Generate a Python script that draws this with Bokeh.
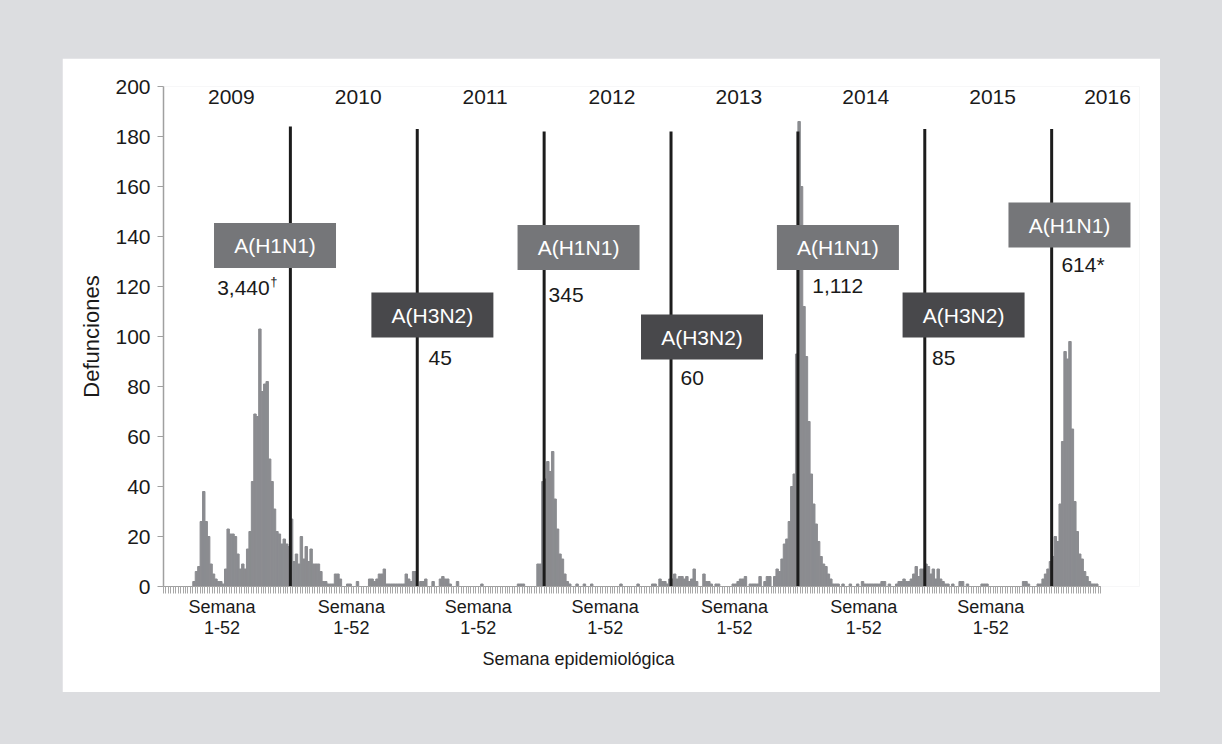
import numpy as np
from bokeh.plotting import figure
from bokeh.models import ColumnDataSource, FixedTicker, Title
from bokeh.layouts import column
from bokeh.embed import file_html
from bokeh.resources import INLINE
from bokeh.core.properties import value

# ---- data (weekly deaths) ----
years = ["2009", "2010", "2011", "2012", "2013", "2014", "2015", "2016"]
d2009 = [0]*12 + [2, 6, 8, 26, 38, 26, 20, 9, 5, 3, 2, 2, 1, 7, 23, 21, 21, 20, 13, 7,
                  9, 7, 15, 22, 42, 69, 68, 103, 78, 81, 82, 51, 42, 31, 22, 21, 17, 19, 17, 16]
d2010 = [27, 10, 13, 9, 20, 11, 16, 10, 15, 9, 9, 9, 6, 2, 2, 1, 1, 1, 5, 5,
         3, 0, 0, 1, 1, 0, 0, 2, 0, 0, 0, 0, 3, 3, 2, 3, 5, 5, 7, 1,
         1, 1, 1, 1, 1, 1, 1, 5, 3, 2, 6, 6]
d2011 = [0, 2, 2, 3, 0, 0, 2, 0, 0, 3, 4, 3, 3, 1, 0, 0, 2, 0, 0, 0,
         0, 0, 0, 0, 0, 0, 1, 0, 0, 0, 0, 0, 0, 0, 0, 0, 0, 0, 0, 0,
         0, 1, 1, 1, 0, 0, 0, 0, 0, 9, 9, 42]
d2012 = [43, 50, 46, 54, 35, 23, 13, 11, 5, 2, 1, 0, 0, 1, 0, 0, 1, 0, 0, 1,
         0, 0, 0, 0, 0, 0, 0, 0, 0, 0, 0, 1, 0, 0, 0, 0, 0, 0, 1, 0,
         0, 0, 0, 0, 1, 1, 0, 3, 2, 2, 1, 3]
d2013 = [3, 5, 3, 4, 4, 3, 4, 2, 3, 7, 2, 0, 0, 5, 2, 2, 1, 0, 1, 1,
         0, 0, 0, 0, 0, 1, 1, 2, 3, 3, 4, 0, 1, 1, 1, 1, 4, 0, 2, 4,
         4, 0, 4, 7, 6, 11, 17, 19, 26, 40, 45, 93]
d2014 = [186, 160, 112, 92, 66, 45, 33, 25, 18, 12, 9, 8, 5, 3, 1, 1, 1, 0, 1, 0,
         0, 1, 0, 0, 1, 0, 2, 1, 1, 1, 1, 1, 1, 1, 2, 2, 0, 1, 0, 0,
         1, 2, 2, 3, 2, 2, 3, 5, 8, 4, 7, 7]
d2015 = [9, 8, 5, 7, 3, 7, 3, 2, 1, 1, 0, 1, 0, 0, 2, 2, 0, 1, 0, 0,
         0, 0, 0, 1, 1, 1, 0, 0, 0, 0, 0, 0, 0, 0, 0, 0, 0, 0, 0, 0,
         2, 2, 1, 0, 0, 0, 1, 1, 3, 5, 7, 10]
d2016 = [12, 20, 18, 33, 58, 94, 91, 98, 63, 34, 22, 13, 11, 6, 4, 2, 1, 1, 1, 0]

deaths = d2009 + d2010 + d2011 + d2012 + d2013 + d2014 + d2015 + d2016
weeks = list(range(len(deaths)))

# season separators (end of each year, in weeks) and their heights
season_breaks = [52, 104, 156, 208, 260, 312, 364]
break_heights = [184, 183, 182, 182, 182, 183, 183]

subtypes = ["A(H1N1)", "A(H3N2)", "A(H1N1)", "A(H3N2)", "A(H1N1)", "A(H3N2)", "A(H1N1)"]
season_totals = ["3,440", "45", "345", "60", "1,112", "85", "614*"]
semana_labels = ["Semana\n1-52"] * 7

# ---- layout of annotations (positions in data units) ----
box_x = [45.7, 110.2, 170.1, 220.7, 276.4, 327.9, 371.3]
box_y = [136.4, 108.6, 135.6, 99.8, 135.6, 108.6, 144.6]
total_x = [22.0, 108.6, 157.8, 211.9, 265.9, 315.0, 368.0]
total_y = [119.4, 91.6, 116.8, 83.4, 120.4, 91.6, 128.8]
year_x = [27.8, 79.8, 131.8, 183.8, 235.8, 287.8, 339.8, 386.9]
semana_x = [24, 77, 129, 181, 234, 287, 339]

H1_COLOR = "#757679"
H3_COLOR = "#48484b"
BAR_COLOR = "#8b8c90"
INK = "#1a1a1a"
FONT = "Liberation Sans"

p = figure(width=1098, height=634, x_range=(0, 400), y_range=(0, 200),
           output_backend="svg", toolbar_location=None,
           min_border_left=101, min_border_right=21, min_border_top=28, min_border_bottom=106)
p.outline_line_color = None
p.grid.grid_line_color = None
p.background_fill_color = "white"
p.border_fill_color = "white"

src = ColumnDataSource(dict(left=weeks, right=[w + 1 for w in weeks], top=deaths))
p.quad(left="left", right="right", bottom=0, top="top", source=src,
       fill_color=BAR_COLOR, line_color=BAR_COLOR, line_width=1)

p.segment(x0=season_breaks, y0=[0]*7, x1=season_breaks, y1=break_heights,
          line_color="#1c1c1c", line_width=3)

colors = [H1_COLOR if s == "A(H1N1)" else H3_COLOR for s in subtypes]
p.rect(x=box_x, y=box_y, width=50, height=18, fill_color=colors, line_color=None)
p.text(x=box_x, y=box_y, text=subtypes, text_color="white",
       text_font=value(FONT), text_font_size=value("21px"),
       text_align="center", text_baseline="middle")
p.text(x=total_x, y=total_y, text=season_totals, text_color=INK,
       text_font=value(FONT), text_font_size=value("21px"),
       text_align="left", text_baseline="middle")
# footnote mark on the 2009 total
p.text(x=[43.8], y=[122.2], text=["\u2020"], text_color=INK,
       text_font=value(FONT), text_font_size=value("13px"),
       text_align="left", text_baseline="middle")
p.text(x=year_x, y=[195.7]*8, text=years, text_color=INK,
       text_font=value(FONT), text_font_size=value("21px"),
       text_align="center", text_baseline="middle")

# y axis
ya = p.yaxis[0]
ya.ticker = FixedTicker(ticks=list(range(0, 201, 20)))
ya.axis_line_color = "#a0a0a0"
ya.axis_line_width = 1.5
ya.major_tick_line_color = "#a0a0a0"
ya.major_tick_out = 6
ya.major_tick_in = 0
ya.minor_tick_line_color = None
ya.major_label_text_font = FONT
ya.major_label_text_font_size = "21px"
ya.major_label_text_color = INK
ya.major_label_standoff = 7
ya.axis_label = "Defunciones"
ya.axis_label_text_font = FONT
ya.axis_label_text_font_size = "22px"
ya.axis_label_text_font_style = "normal"
ya.axis_label_text_color = INK
ya.axis_label_standoff = 8

# x axis
xa = p.xaxis[0]
xa.ticker = FixedTicker(ticks=semana_x, minor_ticks=list(range(0, len(deaths) + 1)))
xa.major_label_overrides = {s: t for s, t in zip(semana_x, semana_labels)}
xa.bounds = (0, len(deaths))
xa.axis_line_color = "#a0a0a0"
xa.axis_line_width = 1.2
xa.major_tick_line_color = None
xa.major_tick_out = 7
xa.major_tick_in = 0
xa.minor_tick_line_color = "#a8a8a8"
xa.minor_tick_out = 7
xa.minor_tick_in = 0
xa.major_label_text_font = FONT
xa.major_label_text_font_size = "18px"
xa.major_label_text_line_height = 1.08
xa.major_label_text_color = INK
xa.major_label_standoff = 3

xtitle = Title(text="Semana epidemiológica", align="left", offset=319,
               text_font=FONT, text_font_size="18px", text_font_style="normal",
               text_color=INK)
p.add_layout(xtitle, "below")

layout = column(p, styles={"background-color": "#dcdde0", "padding": "58px 62px 52px 62px"})

open("out.html", "w").write(file_html(layout, INLINE))
